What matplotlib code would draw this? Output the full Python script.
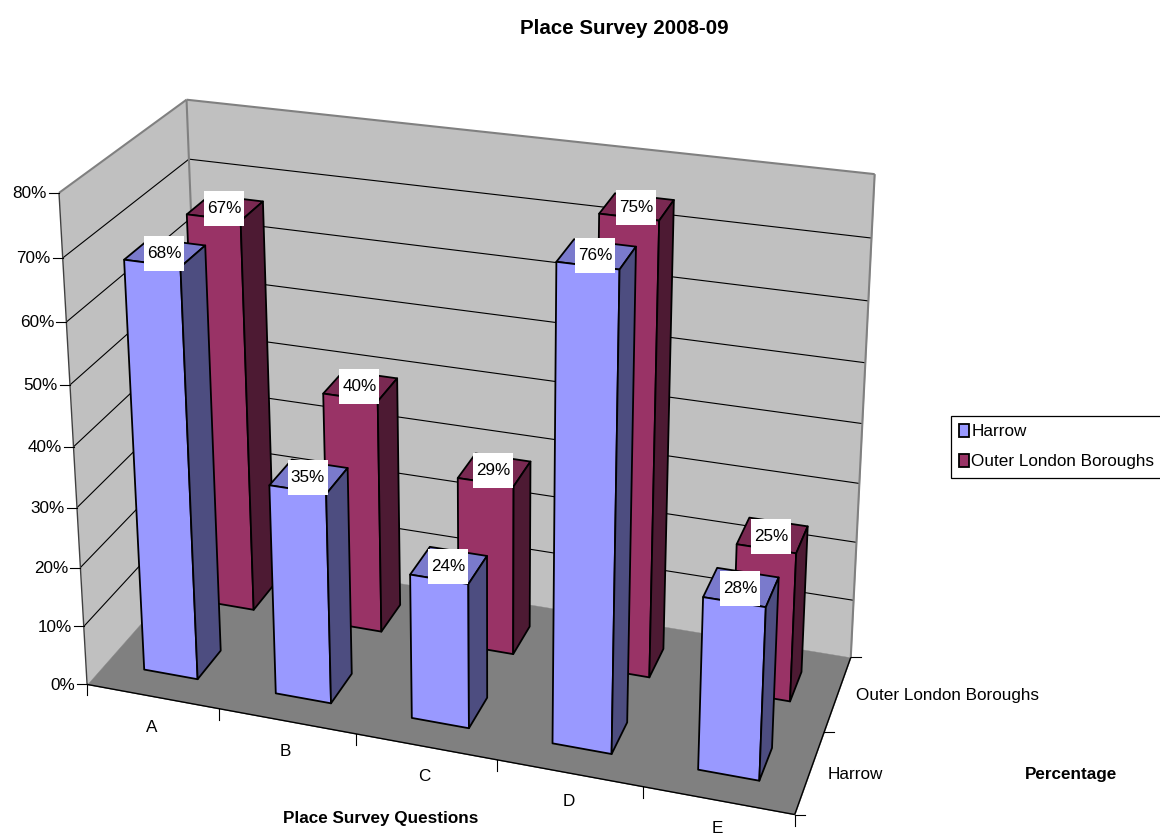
import numpy as np
import matplotlib
matplotlib.use("Agg")
import matplotlib.pyplot as plt
from matplotlib.lines import Line2D
from matplotlib.patches import Patch
from matplotlib.path import Path
from mpl_toolkits.mplot3d.art3d import Poly3DCollection, Line3DCollection

plt.rcParams["font.family"] = ["Liberation Sans", "DejaVu Sans"]

# Survey results
categories = ["A", "B", "C", "D", "E"]
series_names = ["Harrow", "Outer London Boroughs"]
harrow = [68, 35, 24, 76, 28]
outer_london = [67, 40, 29, 75, 25]
value_ticks = [0, 10, 20, 30, 40, 50, 60, 70, 80]

W, H = 1160, 836
FONT = 12.3
TITLE_FONT = 14.8

# Camera calibration: box coordinates (category, series, percent) -> canvas pixel
calib_box = np.array([
    (0, 0, 0), (1, 0, 0), (2, 0, 0), (3, 0, 0), (4, 0, 0), (5, 0, 0),
    (5, 1, 0), (5, 2, 0), (0, 2, 0),
    (0, 0, 10), (0, 0, 20), (0, 0, 30), (0, 0, 40), (0, 0, 50),
    (0, 0, 60), (0, 0, 70), (0, 0, 80),
    (0, 2, 80), (0, 2, 70), (5, 2, 80), (5, 2, 20), (5, 2, 10),
], dtype=float)
calib_px = np.array([
    (86, 684), (218, 710), (355, 733), (497, 760), (643, 787), (795, 813),
    (825, 732), (851, 657), (207, 550),
    (83, 627), (80, 568), (77, 508), (74, 447), (71, 385),
    (67, 321), (63, 258), (60, 193),
    (185, 99), (188, 160), (875, 174), (856, 543), (853, 601),
], dtype=float)


def fit_camera(box, px):
    """Direct linear transform from 3D box coordinates to pixels."""
    scale = np.array([1.0, 1.0, 1 / 80.0])
    rows = []
    for (x, y, z), (u, v) in zip(box * scale, px / 1000.0):
        rows.append([x, y, z, 1, 0, 0, 0, 0, -u * x, -u * y, -u * z, -u])
        rows.append([0, 0, 0, 0, x, y, z, 1, -v * x, -v * y, -v * z, -v])
    p = np.linalg.svd(np.array(rows))[2][-1].reshape(3, 4)
    p = np.diag([1000.0, 1000.0, 1.0]) @ p @ np.diag([scale[0], scale[1], scale[2], 1.0])
    return p / p[2, 3]


P_px = fit_camera(calib_box, calib_px)


def to_px(x, y, z):
    q = P_px @ np.array([x, y, z, 1.0])
    return q[0] / q[2], q[1] / q[2]


fig = plt.figure(figsize=(W / 100, H / 100), dpi=100, facecolor="white")
side_h = W / H
ax = fig.add_axes([0, -(side_h - 1) / 2, 1, side_h], projection="3d", computed_zorder=False)
ax.set_axis_off()
ax.patch.set_visible(False)
ax.apply_aspect()

# Replace the default view with the calibrated camera
flip = np.array([[1, 0, 0], [0, -1, H], [0, 0, 1.0]])
to_data = ax.transData.inverted().get_affine().get_matrix()
P_data = to_data @ flip @ P_px
camera_centre = np.linalg.svd(P_data)[2][-1]
M = np.vstack([P_data[0], P_data[1], camera_centre, P_data[2]])
ax.get_proj = lambda: M
ax.M = M


def quad(faces, colors, edge, lw, z):
    col = Poly3DCollection(faces, facecolors=colors, edgecolors=edge, linewidths=lw, zorder=z)
    ax.add_collection3d(col, autolim=False)


def polyline(points, color, lw, z):
    segs = [[points[k], points[k + 1]] for k in range(len(points) - 1)]
    col = Line3DCollection(segs, colors=color, linewidths=lw, zorder=z)
    ax.add_collection3d(col, autolim=False)


X1, Y1, Z1 = len(categories), len(series_names), value_ticks[-1]

# Walls and floor
quad([[(0, 0, 0), (0, Y1, 0), (0, Y1, Z1), (0, 0, Z1)]], ["#C0C0C0"], "#C0C0C0", 0.3, 1)
quad([[(0, Y1, 0), (X1, Y1, 0), (X1, Y1, Z1), (0, Y1, Z1)]], ["#C0C0C0"], "#C0C0C0", 0.3, 1)
quad([[(0, 0, 0), (X1, 0, 0), (X1, Y1, 0), (0, Y1, 0)]], ["#808080"], "#808080", 0.3, 2)

# Gridlines across both walls
for v in value_ticks[1:-1]:
    polyline([(0, 0, v), (0, Y1, v), (X1, Y1, v)], "black", 0.8, 3)

# Wall outline
polyline([(0, 0, Z1), (0, Y1, Z1), (X1, Y1, Z1), (X1, Y1, 0)], "#808080", 1.5, 3)
polyline([(0, Y1, 0), (0, Y1, Z1)], "#808080", 1.5, 3)
polyline([(0, 0, 0), (0, 0, Z1)], "#404040", 1.0, 3)
polyline([(0, 0, 0), (X1, 0, 0), (X1, Y1, 0)], "black", 1.0, 3)

# Bar footprint inside one category/series cell
BAR_X = (0.295, 0.705)
BAR_Y = (0.30, 0.70)

styles = [
    dict(front="#9999FF", side="#4D4D80", top="#7A7ACC"),
    dict(front="#993366", side="#4D1A33", top="#7A2952"),
]


def draw_bar(i, s, value, style, z):
    x0, x1 = i + BAR_X[0], i + BAR_X[1]
    y0, y1 = s + BAR_Y[0], s + BAR_Y[1]
    faces = [
        [(x0, y0, 0), (x1, y0, 0), (x1, y0, value), (x0, y0, value)],
        [(x1, y0, 0), (x1, y1, 0), (x1, y1, value), (x1, y0, value)],
        [(x0, y0, value), (x1, y0, value), (x1, y1, value), (x0, y1, value)],
    ]
    quad(faces, [style["front"], style["side"], style["top"]], "black", 1.3, z)


z = 10
for s, values in reversed(list(enumerate([harrow, outer_london]))):
    for i, v in enumerate(values):
        draw_bar(i, s, v, styles[s], z)
        z += 1


def fig_xy(px, py):
    return px / W, 1 - py / H


def value_box(x0, y0, width, height, mutation_size):
    """Fixed-size white backing centred on the label."""
    cx, cy = x0 + width / 2, y0 + height / 2
    bw, bh = 40 / 2, 35 / 2
    return Path([(cx - bw, cy - bh), (cx + bw, cy - bh), (cx + bw, cy + bh),
                 (cx - bw, cy + bh), (cx - bw, cy - bh)], closed=True)


# Value labels sit on the bar tops
for s, values in enumerate([harrow, outer_london]):
    for i, v in enumerate(values):
        px, py = to_px(i + sum(BAR_X) / 2, s + sum(BAR_Y) / 2, v)
        a, b = fig_xy(px - 1, py + 1)
        fig.text(a, b, f"{v}%", fontsize=FONT, ha="center", va="center", color="black",
                 bbox=dict(boxstyle=value_box, facecolor="white", edgecolor="none"))


def tick(p, q):
    (a, b), (c, d) = fig_xy(*p), fig_xy(*q)
    fig.add_artist(Line2D([a, c], [b, d], color="black", lw=0.8, transform=fig.transFigure))


# Value axis ticks and labels
for v in value_ticks:
    px, py = to_px(0, 0, v)
    tick((px - 10, py), (px, py))
    a, b = fig_xy(px - 12, py + 1)
    fig.text(a, b, f"{v}%", fontsize=FONT, ha="right", va="center")

# Category axis ticks and labels
for i in range(X1 + 1):
    px, py = to_px(i, 0, 0)
    tick((px, py), (px, py + 11))
for i, name in enumerate(categories):
    px, py = to_px(i + 0.5, 0, 0)
    a, b = fig_xy(px - 1, py + 31 - 0.8 * i)
    fig.text(a, b, name, fontsize=FONT, ha="center", va="center")

# Series axis ticks and labels
for s in range(Y1 + 1):
    px, py = to_px(X1, s, 0)
    tick((px, py), (px + 10, py))
for s, name in enumerate(series_names):
    px, py = to_px(X1, s + 0.5, 0)
    a, b = fig_xy(px + 18, py + 2)
    fig.text(a, b, name, fontsize=FONT, ha="left", va="center")

# Titles
a, b = fig_xy(624, 29)
fig.text(a, b, "Place Survey 2008-09", fontsize=TITLE_FONT, fontweight="bold", ha="center", va="center")
a, b = fig_xy(381, 819)
fig.text(a, b, "Place Survey Questions", fontsize=FONT, fontweight="bold", ha="center", va="center")
a, b = fig_xy(1071, 775)
fig.text(a, b, "Percentage", fontsize=FONT, fontweight="bold", ha="center", va="center")

# Legend
handles = [Patch(facecolor=st["front"], edgecolor="black", linewidth=1.3) for st in styles]
leg = fig.legend(
    handles, series_names, loc="upper left", bbox_to_anchor=fig_xy(951, 416),
    fontsize=FONT, frameon=True, fancybox=False, edgecolor="black", framealpha=1,
    borderaxespad=0, borderpad=0.48, handlelength=0.6, handleheight=0.75,
    handletextpad=0.1, labelspacing=0.86,
)
leg.get_frame().set_linewidth(0.9)

fig.savefig("out.png", dpi=100, facecolor="white")
